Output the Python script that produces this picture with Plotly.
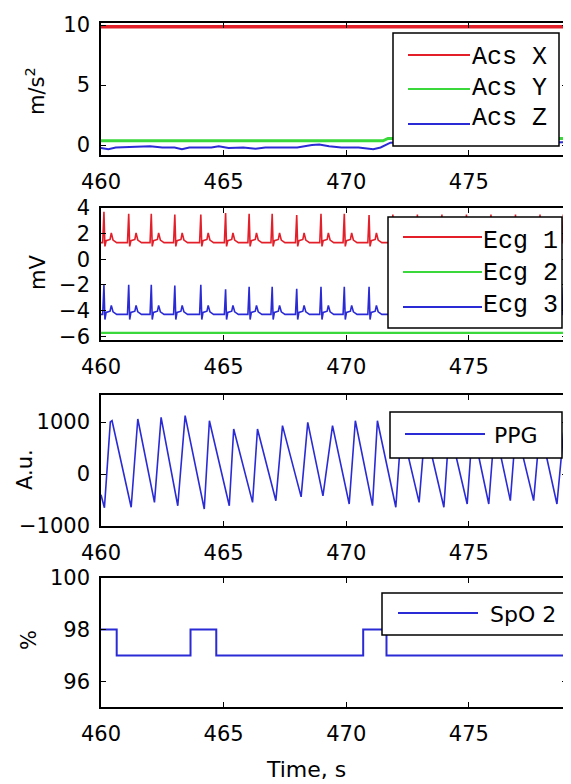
import plotly.graph_objects as go

# The page body has an 8 px margin, so the figure is drawn 8 px in from the
# window's top-left corner; all pixel positions below are window pixels.
OFF = 8
W, H = 571 - OFF, 784 - OFF

# ---------------- data ----------------
time_ticks = [460, 465, 470, 475]

# Accelerometer (m/s^2)
acs_x_t = [460.0, 465.0, 479.0]
acs_x_v = [9.85, 9.85, 9.85]
acs_y_t = [460.0, 465.0, 471.5, 471.7, 475.0, 479.0]
acs_y_v = [0.35, 0.35, 0.35, 0.55, 0.55, 0.55]
acs_z_t = [460.0, 460.3, 460.6, 461.5, 462.0, 462.5, 463.0, 463.3, 463.6, 464.5, 464.8,
           465.2, 465.8, 466.3, 466.7, 467.5, 468.0, 468.6, 468.9, 469.3, 469.8, 470.5,
           471.1, 471.4, 471.8, 472.5, 474.0, 476.0, 478.0, 479.0]
acs_z_v = [-0.25, -0.35, -0.2, -0.15, -0.1, -0.2, -0.2, -0.35, -0.2, -0.2, -0.1,
           -0.25, -0.2, -0.3, -0.2, -0.2, -0.2, 0.0, 0.05, -0.1, -0.2, -0.2,
           -0.35, -0.2, 0.2, 0.25, 0.2, 0.25, 0.2, 0.25]

# ECG (mV): R-peak times and heights
ecg_r_times = [460.12, 461.13, 462.05, 463.01, 464.07, 465.08, 466.04, 466.98, 467.98,
               468.97, 469.92, 470.93, 471.90, 472.90, 473.90, 474.90, 475.90, 476.90,
               477.90, 478.85]
ecg1_r_peak = [3.7, 3.55, 3.55, 3.5, 3.5, 3.6, 3.55, 3.55, 3.45, 3.55, 3.55, 3.45, 3.5,
               3.5, 3.5, 3.5, 3.5, 3.5, 3.5, 3.5]
ecg3_r_peak = [-2.0, -2.0, -2.0, -2.05, -2.0, -2.35, -2.15, -2.15, -2.3, -2.15, -2.15,
               -2.15, -2.2, -2.2, -2.2, -2.2, -2.2, -2.2, -2.2, -2.2]
# beat morphology (offset from R in s, level): baseline, R, S, ST, T-onset, T, T-end, baseline
beat_offsets = [-0.05, 0.0, 0.04, 0.09, 0.25, 0.30, 0.37, 0.52]
ecg1_levels = [1.3, None, 1.0, 1.45, 1.55, 2.05, 1.5, 1.3]
ecg3_levels = [-4.3, None, -4.7, -4.15, -4.05, -3.6, -4.1, -4.3]
ecg2_t = [460.0, 479.0]
ecg2_v = [-5.75, -5.75]

# PPG (a.u.): alternating trough / peak vertices
ppg_t = [460.00, 460.14, 460.38, 460.45, 461.23, 461.50, 462.18, 462.45, 463.13, 463.43,
         464.21, 464.42, 465.23, 465.41, 466.18, 466.38, 467.13, 467.40, 468.16, 468.43,
         469.05, 469.44, 470.12, 470.37, 471.07, 471.27, 472.02, 472.25, 472.97, 473.22,
         473.98, 474.20, 474.93, 475.15, 475.81, 476.05, 476.69, 476.92, 477.64, 477.90,
         478.59, 478.86, 479.00]
ppg_v = [-400, -650, 1000, 1025, -640, 1058, -545, 1090, -610, 1122,
         -673, 1025, -610, 865, -545, 865, -513, 930, -440, 994,
         -420, 930, -577, 1025, -609, 1025, -640, 900, -545, 900,
         -640, 900, -577, 900, -577, 900, -513, 900, -513, 900,
         -577, 800, 600]

# SpO2 (%)
spo2_t = [460.0, 460.64, 463.65, 464.70, 470.69, 471.64, 479.0]
spo2_v = [98, 97, 98, 97, 98, 97, 97]

# ---------------- build ECG polylines ----------------
def build_ecg(levels, peaks):
    xs, ys = [460.0], [levels[0]]
    for t, pk in zip(ecg_r_times, peaks):
        for off, lv in zip(beat_offsets, levels):
            xs.append(t + off)
            ys.append(pk if lv is None else lv)
    xs.append(479.0)
    ys.append(levels[-1])
    return xs, ys

ecg1_t, ecg1_v = build_ecg(ecg1_levels, ecg1_r_peak)
ecg3_t, ecg3_v = build_ecg(ecg3_levels, ecg3_r_peak)

RED = "#e3202a"
GREEN = "#3ad83a"
BLUE = "#2b2bd6"

fig = go.Figure()

def add(x, y, color, width, idx, shape="linear"):
    n = "" if idx == 0 else str(idx + 1)
    fig.add_trace(go.Scatter(x=x, y=y, mode="lines", xaxis="x" + n, yaxis="y" + n,
                             line=dict(color=color, width=width, shape=shape),
                             showlegend=False, hoverinfo="skip"))

add(acs_x_t, acs_x_v, RED, 3.5, 0)
add(acs_y_t, acs_y_v, GREEN, 3, 0)
add(acs_z_t, acs_z_v, BLUE, 2, 0)
add(ecg1_t, ecg1_v, RED, 1.6, 1)
add(ecg2_t, ecg2_v, GREEN, 2.2, 1)
add(ecg3_t, ecg3_v, BLUE, 1.6, 1)
add(ppg_t, ppg_v, BLUE, 1.6, 2)
add(spo2_t, spo2_v, BLUE, 2, 3, shape="hv")


def px(x):
    return (x - OFF) / W


def py(y):
    return 1 - (y - OFF) / H


# ---------------- axes ----------------
panels = [(23, 155), (208, 340), (395, 526), (578, 707)]
yranges = [[-0.83, 10.17], [-6.3, 4], [-1000, 1520], [95, 100]]
yticks = [[0, 5, 10], [-6, -4, -2, 0, 2, 4], [-1000, 0, 1000], [96, 98, 100]]
xdom = [px(101), px(567)]
tickfont = dict(family="DejaVu Sans", size=21, color="black")

layout = dict(width=W, height=H, margin=dict(l=0, r=0, t=0, b=0, autoexpand=False),
              paper_bgcolor="white", plot_bgcolor="white", showlegend=False)
for i, (top, bot) in enumerate(panels):
    n = "" if i == 0 else str(i + 1)
    layout["xaxis" + n] = dict(domain=xdom, range=[460, 479], anchor="y" + n,
                               tickvals=time_ticks, ticks="inside", ticklen=5,
                               tickcolor="black", showline=True, linecolor="black",
                               linewidth=1.5, mirror="ticks", showgrid=False,
                               zeroline=False, tickfont=tickfont, ticklabelstandoff=7,
                               automargin=False)
    layout["yaxis" + n] = dict(domain=[py(bot), py(top)], range=yranges[i],
                               anchor="x" + n, tickvals=yticks[i], ticks="inside",
                               ticklen=5, tickcolor="black", showline=True,
                               linecolor="black", linewidth=1.5, mirror="ticks",
                               showgrid=False, zeroline=False, tickfont=tickfont,
                               ticklabelstandoff=5, automargin=False)
fig.update_layout(**layout)

shapes = []
annos = []

# thick right edge bars
for top, bot in panels:
    shapes.append(dict(type="rect", xref="paper", yref="paper", x0=px(567), x1=px(571),
                       y0=py(bot + 2), y1=py(top - 1), fillcolor="black", line=dict(width=0)))


def legend(box, lines, texts, font):
    x0, x1, y0, y1 = box
    shapes.append(dict(type="rect", xref="paper", yref="paper", x0=px(x0), x1=px(x1),
                       y0=py(y1), y1=py(y0), fillcolor="white",
                       line=dict(color="black", width=1.5)))
    for (lx0, lx1, ly, col) in lines:
        shapes.append(dict(type="line", xref="paper", yref="paper", x0=px(lx0), x1=px(lx1),
                           y0=py(ly), y1=py(ly), line=dict(color=col, width=2)))
    for (tx, ty, txt) in texts:
        annos.append(dict(xref="paper", yref="paper", x=px(tx), y=py(ty), text=txt,
                          showarrow=False, xanchor="left", yanchor="middle", font=font))


mono = dict(family="Liberation Mono", size=25, color="black")
sans = dict(family="DejaVu Sans", size=22, color="black")

legend((393, 559, 33, 146),
       [(408, 470, 55, RED), (408, 470, 89, GREEN), (408, 470, 124, BLUE)],
       [(470, 58, "Acs X"), (470, 89, "Acs Y"), (470, 119, "Acs Z")], mono)
legend((388, 562, 217, 328),
       [(403, 482, 237, RED), (403, 482, 272, GREEN), (403, 482, 307, BLUE)],
       [(481, 241, "Ecg 1"), (481, 273, "Ecg 2"), (481, 305, "Ecg 3")], mono)
legend((390, 562, 412, 458),
       [(405, 485, 434, BLUE)],
       [(492, 435, "PPG")], sans)
legend((382, 567, 593, 635),
       [(398, 478, 613, BLUE)],
       [(488, 614, "SpO 2")], sans)

# axis titles
ytitle_font = dict(family="DejaVu Sans", size=21, color="black")
for (tx, ty, txt) in [(35, 91, "m/s<sup>2</sup>"), (38, 272, "mV"), (25, 470, "A.u."), (29, 640, "%")]:
    annos.append(dict(xref="paper", yref="paper", x=px(tx), y=py(ty), text=txt,
                      textangle=-90, showarrow=False, xanchor="center", yanchor="middle",
                      font=ytitle_font))
annos.append(dict(xref="paper", yref="paper", x=px(306), y=py(769), text="Time, s",
                  showarrow=False, xanchor="center", yanchor="middle",
                  font=dict(family="DejaVu Sans", size=22, color="black")))

fig.update_layout(shapes=shapes, annotations=annos)
fig.write_html("out.html")
